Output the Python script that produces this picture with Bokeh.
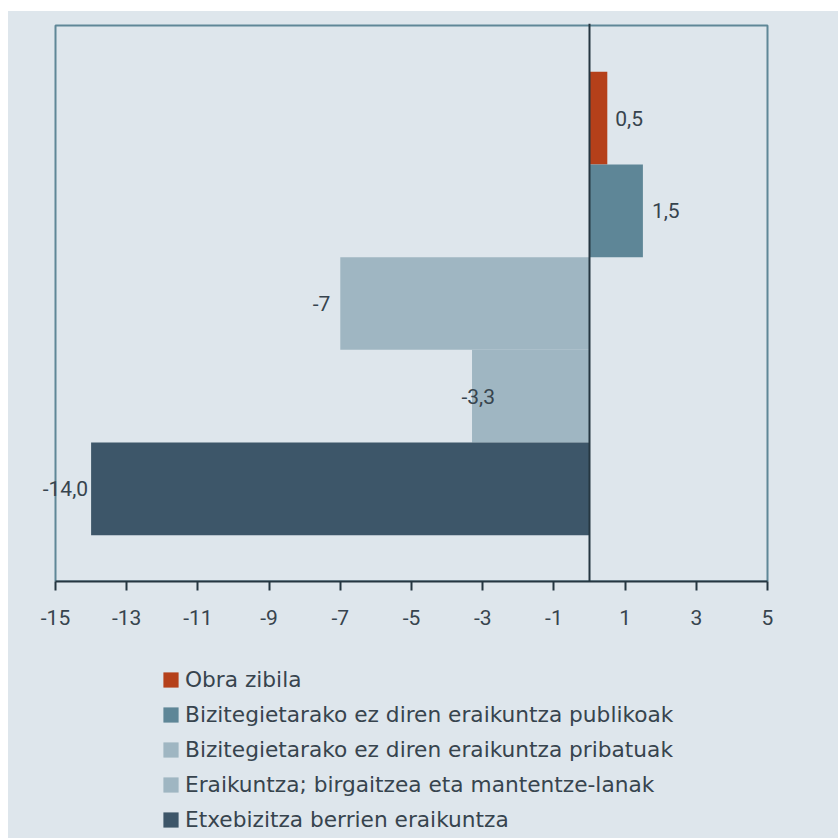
from bokeh.plotting import figure
from bokeh.layouts import column, row
from bokeh.models import (ColumnDataSource, Range1d, FixedTicker, Span, Legend, LegendItem,
                          CustomJSTickFormatter, LabelSet, Spacer, BoxAnnotation)
from bokeh.core.properties import value
from bokeh.embed import file_html
from bokeh.resources import INLINE

categories = [
    "Obra zibila",
    "Bizitegietarako ez diren eraikuntza publikoak",
    "Bizitegietarako ez diren eraikuntza pribatuak",
    "Eraikuntza; birgaitzea eta mantentze-lanak",
    "Etxebizitza berrien eraikuntza",
]
values = [0.5, 1.5, -7.0, -3.3, -14.0]
value_labels = ["0,5", "1,5", "-7", "-3,3", "-14,0"]
x_ticks = [-15, -13, -11, -9, -7, -5, -3, -1, 1, 3, 5]

# styling
colors = ["#b5401a", "#5e8697", "#9fb6c2", "#9fb6c2", "#3d5669"]
label_dx = [8, 9, -10, 23, -3]
label_align = ["left", "left", "right", "right", "right"]

NUM_FONT = "Roboto"
LEG_FONT = "DejaVu Sans"
TXT = "#37444e"
BG = "#dee6ec"
FRAME = "#5f8797"
DARK = "#253641"

pos = [i + 1 for i in range(len(categories))]
src = ColumnDataSource(dict(cat=categories, val=values, y=pos, color=colors))

# layout geometry (pixels)
px_per_unit = 712 / (x_ticks[-1] - x_ticks[0])
x_start = x_ticks[0] - 47 / px_per_unit
x_end = x_start + 761 / px_per_unit
y_px = 556 / 6
p = figure(width=830, height=629, output_backend="svg", toolbar_location=None,
           x_range=Range1d(x_start, x_end), y_range=Range1d(6, -2 / y_px),
           min_border_left=0, min_border_right=69, min_border_top=12, min_border_bottom=59)
p.background_fill_color = BG
p.border_fill_color = BG
p.outline_line_color = None
p.grid.visible = False
p.yaxis.visible = False

p.add_layout(BoxAnnotation(left=x_ticks[0], right=x_ticks[-1], top=0, bottom=6,
                           fill_alpha=0, line_color=FRAME, line_alpha=1.0, line_width=2,
                           level="underlay"))

r = p.hbar(y="y", right="val", left=0, height=1.0, color="color", line_color=None, source=src)

p.add_layout(Span(location=0, dimension="height", line_color=DARK, line_width=2))

left_idx = [i for i, a in enumerate(label_align) if a == "left"]
right_idx = [i for i, a in enumerate(label_align) if a == "right"]
for idx, al in [(left_idx, "left"), (right_idx, "right")]:
    s = ColumnDataSource(dict(x=[values[i] for i in idx], y=[pos[i] for i in idx],
                              t=[value_labels[i] for i in idx], dx=[label_dx[i] for i in idx]))
    p.add_layout(LabelSet(x="x", y="y", text="t", source=s, x_offset="dx", text_align=al,
                          text_baseline="middle", text_font=value(NUM_FONT),
                          text_font_size="21px", text_color=TXT))

ax = p.xaxis[0]
ax.ticker = FixedTicker(ticks=x_ticks)
ax.bounds = (x_ticks[0], x_ticks[-1])
ax.formatter = CustomJSTickFormatter(code="return tick.toString();")
ax.axis_line_color = DARK
ax.axis_line_width = 2
ax.major_tick_line_color = DARK
ax.major_tick_line_width = 2
ax.major_tick_out = 9
ax.major_tick_in = 0
ax.minor_tick_line_color = None
ax.major_label_text_font = NUM_FONT
ax.major_label_text_font_size = "21px"
ax.major_label_text_color = TXT
ax.major_label_standoff = 19

# legend figure (its bars lie outside its ranges; only the legend shows)
p2 = figure(width=830, height=198, output_backend="svg", toolbar_location=None,
            x_range=Range1d(100, 101), y_range=Range1d(100, 101),
            x_axis_location=None, y_axis_location=None, min_border=0)
p2.background_fill_color = None
p2.border_fill_color = BG
p2.outline_line_color = None
p2.grid.visible = False
r2 = p2.hbar(y="y", right="val", left=0, height=1.0, color="color", line_color=None, source=src)

items = [LegendItem(label=c, renderers=[r2], index=i) for i, c in enumerate(categories)]
leg = Legend(items=items, location=(153, 6), orientation="vertical",
             glyph_width=19, glyph_height=19, label_standoff=5, spacing=10,
             label_height=25, padding=0, margin=0,
             label_text_font=LEG_FONT, label_text_font_size="21.7px", label_text_color=TXT,
             background_fill_alpha=0, border_line_color=None)
p2.add_layout(leg, "center")

inner = column(p, p2, spacing=0, styles={"background-color": BG})
layout = column(Spacer(width=838, height=11),
                row(Spacer(width=8, height=827), inner, spacing=0),
                spacing=0)

open("out.html", "w").write(file_html(layout, INLINE))
